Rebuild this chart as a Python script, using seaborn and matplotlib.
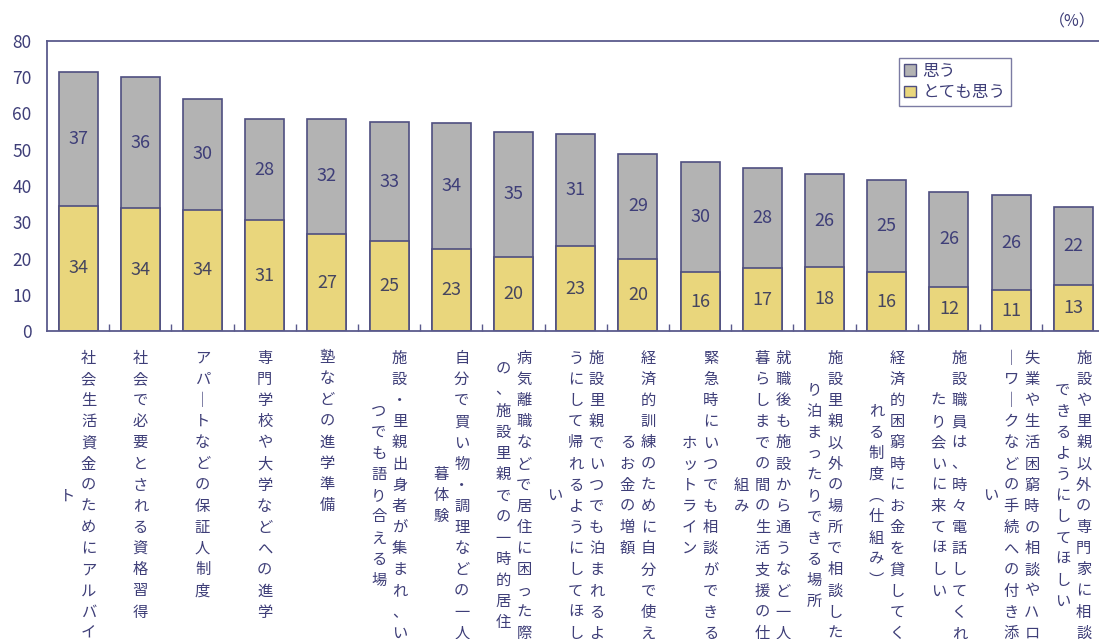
import numpy as np
import pandas as pd
import matplotlib
matplotlib.use("Agg")
import matplotlib.pyplot as plt
import seaborn as sns
from matplotlib.patches import Patch

# items (x categories), in the order shown
items = [
    "社会生活資金のためにアルバイト",
    "社会で必要とされる資格習得",
    "アパートなどの保証人制度",
    "専門学校や大学などへの進学",
    "塾などの進学準備",
    "施設・里親出身者が集まれ、いつでも語り合える場",
    "自分で買い物・調理などの一人暮体験",
    "病気離職などで居住に困った際の、施設里親での一時的居住",
    "施設里親でいつでも泊まれるようにして帰れるようにしてほしい",
    "経済的訓練のために自分で使えるお金の増額",
    "緊急時にいつでも相談ができるホットライン",
    "就職後も施設から通うなど一人暮らしまでの間の生活支援の仕組み",
    "施設里親以外の場所で相談したり泊まったりできる場所",
    "経済的困窮時にお金を貸してくれる制度（仕組み）",
    "施設職員は、時々電話してくれたり会いに来てほしい",
    "失業や生活困窮時の相談やハローワークなどの手続への付き添い",
    "施設や里親以外の専門家に相談できるようにしてほしい",
]

# bar heights (%)
tottemo_pct = [34.5, 33.8, 33.4, 30.5, 26.7, 24.7, 22.6, 20.5, 23.4,
               20.0, 16.2, 17.3, 17.6, 16.2, 12.2, 11.3, 12.6]
omou_pct = [36.9, 36.2, 30.7, 28.1, 31.9, 32.9, 34.7, 34.5, 30.9,
            28.8, 30.3, 27.6, 25.7, 25.5, 26.1, 26.1, 21.5]

# numbers printed in the bars
tottemo_lbl = [34, 34, 34, 31, 27, 25, 23, 20, 23, 20, 16, 17, 18, 16, 12, 11, 13]
omou_lbl = [37, 36, 30, 28, 32, 33, 34, 35, 31, 29, 30, 28, 26, 25, 26, 26, 22]

y_ticks = [0, 10, 20, 30, 40, 50, 60, 70, 80]
series_names = ["思う", "とても思う"]

sns.set_theme(style="white")
plt.rcParams['font.family'] = ['Noto Sans CJK JP', 'DejaVu Sans']

gray = "#b3b3b3"
yellow = "#e9d67c"
edge = "#4f4f80"
navy = "#5a5a8c"
txt = "#3e3e78"

df = pd.DataFrame({"item": items, "とても思う": tottemo_pct, "思う": omou_pct})
df["total"] = df["とても思う"] + df["思う"]

fig = plt.figure(figsize=(10.99, 6.39), dpi=100)
ax = fig.add_axes([47 / 1099, 1 - 331 / 639, 17 * 62.2 / 1099, 290 / 639])

# stacked look: total in gray, lower part in yellow on top of it
sns.barplot(data=df, x="item", y="total", color=gray, width=0.63,
            edgecolor=edge, linewidth=1.2, saturation=1, ax=ax)
sns.barplot(data=df, x="item", y="とても思う", color=yellow, width=0.63,
            edgecolor=edge, linewidth=1.2, saturation=1, ax=ax)

ax.set_xlim(-0.5, len(items) - 0.5)
ax.set_ylim(0, 80)
ax.set_xlabel("")
ax.set_ylabel("")
ax.set_yticks(y_ticks)
ax.set_xticks(range(len(items)))
ax.set_xticklabels([])
ax.set_xticks(np.arange(0.5, len(items) - 1, 1), minor=True)
ax.tick_params(axis="x", which="major", length=0)
ax.tick_params(axis="x", which="minor", direction="in", length=5,
               width=1, color=navy, bottom=True)
ax.tick_params(axis="y", length=0, pad=11, labelsize=12.5, labelcolor=txt)

for side in ["left", "bottom", "top"]:
    ax.spines[side].set_color(navy)
    ax.spines[side].set_linewidth(1.3)
ax.spines["right"].set_visible(False)

# numbers in the bars
for i in range(len(items)):
    ax.text(i, tottemo_pct[i] / 2, str(tottemo_lbl[i]), ha="center",
            va="center", fontsize=13, color="#45455f")
    ax.text(i, tottemo_pct[i] + omou_pct[i] / 2, str(omou_lbl[i]),
            ha="center", va="center", fontsize=13, color=txt)

# vertical category labels (tategaki), 14 chars per column, right to left
VERT = {"ー": "｜", "（": "︵", "）": "︶"}


def columns(s, n=14):
    s = "".join(VERT.get(c, c) for c in s)
    return [s[k:k + n] for k in range(0, len(s), n)]


pitch = 21.4 * 0.72
for i, name in enumerate(items):
    cols = columns(name)
    lmax = len(cols[0])
    for k, col in enumerate(cols):
        dx = ((len(cols) - 1) / 2 - k) * 15
        dy = -(10.8 + lmax * pitch / 2)
        ax.annotate("\n".join(col), xy=(i, 0), xycoords=("data", "axes fraction"),
                    xytext=(dx, dy), textcoords="offset points",
                    ha="center", va="center", fontsize=11, linespacing=1.32,
                    color=txt, annotation_clip=False)

handles = [Patch(facecolor=gray, edgecolor=edge, label=series_names[0]),
           Patch(facecolor=yellow, edgecolor=edge, label=series_names[1])]
leg = ax.legend(handles=handles, loc="upper left", bbox_to_anchor=(0.806, 0.941),
                frameon=True, fancybox=False, edgecolor=navy, fontsize=12,
                handlelength=0.7, handleheight=0.7, handletextpad=0.4,
                borderpad=0.3, labelspacing=0.25, borderaxespad=0)
leg.get_frame().set_linewidth(1.0)
for t in leg.get_texts():
    t.set_color(txt)

fig.text(1072 / 1099, 1 - 22 / 639, "（%）", ha="center", va="center",
         fontsize=11.5, color=txt)

fig.savefig("out.png", dpi=100)
